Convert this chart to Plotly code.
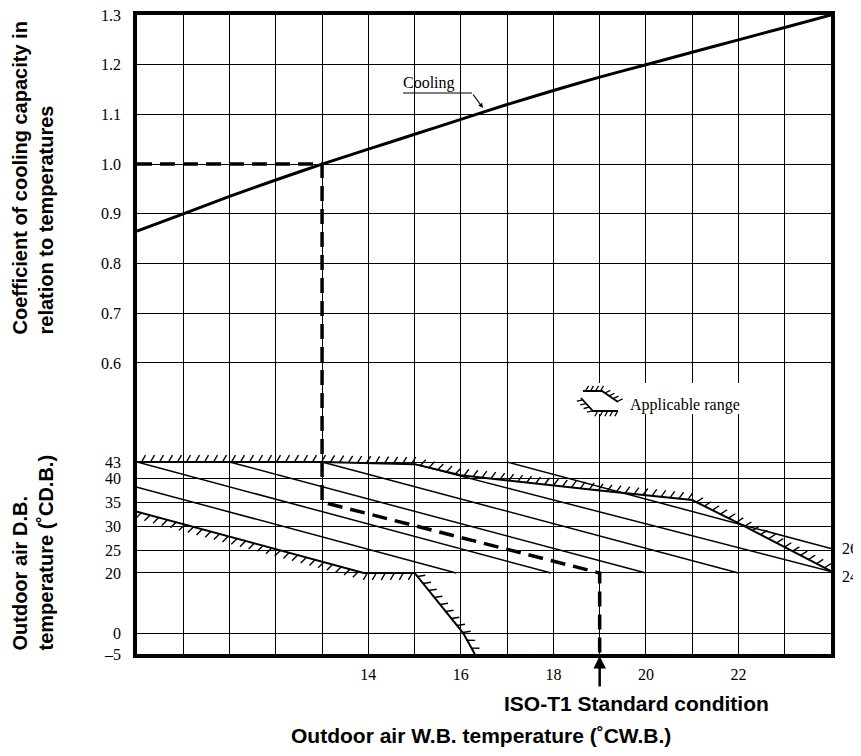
import numpy as np
import plotly.graph_objects as go

# ---------------- data ----------------
WB_MIN, WB_MAX = 9, 24
COEF_TOP = 1.3

# cooling capacity coefficient vs outdoor W.B.
COOL_WB = [9, 10, 11, 12, 13, 14, 15, 16, 17, 18, 19, 20, 21, 22, 23, 24]
COOL_COEF = [0.865, 0.900, 0.935, 0.968, 1.000, 1.030, 1.060, 1.090,
             1.120, 1.148, 1.175, 1.200, 1.225, 1.250, 1.275, 1.300]

COEF_TICKS = [0.6, 0.7, 0.8, 0.9, 1.0, 1.1, 1.2, 1.3]
COEF_LABELS = ["0.6", "0.7", "0.8", "0.9", "1.0", "1.1", "1.2", "1.3"]

# lower panel: outdoor D.B. axis (non-linear in the original drawing)
DB_TICKS = [-5, 0, 20, 25, 30, 35, 40, 43]
DB_LABELS = ["\u20135", "0", "20", "25", "30", "35", "40", "43"]
# where each of those D.B. levels sits on the shared vertical scale
DB_ROW = [0.0143, 0.0565, 0.1773, 0.2235, 0.2718, 0.3201, 0.3684, 0.4006]

WB_GRID = list(range(10, 24))
WB_LABELLED = [14, 16, 18, 20, 22]

# diagonal lines inside the applicable range (W.B., D.B.)
DIAG_1_WB, DIAG_1_DB = [9, 15.9], [38.1, 20]
DIAG_2_WB, DIAG_2_DB = [9, 17.95], [43, 20]
DIAG_3_WB, DIAG_3_DB = [11, 20], [43, 20]
DIAG_4_WB, DIAG_4_DB = [13, 22], [43, 20]
DIAG_24_WB, DIAG_24_DB = [15, 24], [42.6, 20.3]
DIAG_26_WB, DIAG_26_DB = [17, 24], [43, 25.3]

# applicable range boundaries (W.B., D.B.)
UPPER_WB = [9, 13, 15, 16, 19, 21, 22, 24]
UPPER_DB = [43, 43, 42.6, 40.5, 37.4, 35.4, 30.6, 20.4]
LOWER_WB = [9, 13.9, 15]
LOWER_DB = [33, 20, 20]
STEEP_WB = [15, 16.05, 16.3]
STEEP_DB = [20, 0, -5]
BOTTOM_WB = [15.8, 24]
BOTTOM_DB = [-5, -5]

# ISO-T1 standard condition path
STD_WB_COEF, STD_COEF = [9, 13], [1.0, 1.0]
STD_WB_DB, STD_DB = [13, 13, 19, 19], [43, 35, 20, -5]

# ---------------- geometry helpers ----------------
PAGE_OFF = 8                      # default body margin of the html page
PLOT_L, PLOT_T, PLOT_W, PLOT_H = 137, 15, 694, 639   # plot box in page pixels
Y_BOT = DB_ROW[0]


def db_row(db):
    return list(np.interp(db, DB_TICKS, DB_ROW))


def to_px(x, y):
    x = np.asarray(x, float)
    y = np.asarray(y, float)
    px = PLOT_L + (x - WB_MIN) / (WB_MAX - WB_MIN) * PLOT_W
    py = PLOT_T + (COEF_TOP - y) / (COEF_TOP - Y_BOT) * PLOT_H
    return px, py


def from_px(px, py):
    px = np.asarray(px, float)
    py = np.asarray(py, float)
    x = WB_MIN + (px - PLOT_L) / PLOT_W * (WB_MAX - WB_MIN)
    y = COEF_TOP - (py - PLOT_T) / PLOT_H * (COEF_TOP - Y_BOT)
    return x, y


def paper(px, py):
    return (px - PLOT_L) / PLOT_W, 1 - (py - PLOT_T) / PLOT_H


def hatch_px(px, py, side, step=9.0, length=8.0, angle=30):
    a = np.radians(angle)
    segs = []
    carry = step / 2
    for i in range(len(px) - 1):
        x0, y0, x1, y1 = px[i], py[i], px[i + 1], py[i + 1]
        L = np.hypot(x1 - x0, y1 - y0)
        if L == 0:
            continue
        tx, ty = (x1 - x0) / L, (y1 - y0) / L
        nx, ny = ty * side, -tx * side
        dx = nx * np.cos(a) - ny * np.sin(a)
        dy = nx * np.sin(a) + ny * np.cos(a)
        s = carry
        while s < L:
            sx, sy = x0 + tx * s, y0 + ty * s
            segs.append((sx, sy, sx + dx * length, sy + dy * length))
            s += step
        carry = s - L
    return segs


def hatch(xs, ys, side, **kw):
    px, py = to_px(xs, ys)
    hx, hy = [], []
    for sx, sy, ex, ey in hatch_px(px, py, side, **kw):
        X, Y = from_px([sx, ex], [sy, ey])
        hx += [X[0], X[1], None]
        hy += [Y[0], Y[1], None]
    return hx, hy


# ---------------- figure ----------------
fig = go.Figure()
BLACK = "black"

# thin diagonals
dx, dy = [], []
for wb, db in [(DIAG_1_WB, DIAG_1_DB), (DIAG_2_WB, DIAG_2_DB), (DIAG_3_WB, DIAG_3_DB),
               (DIAG_4_WB, DIAG_4_DB), (DIAG_24_WB, DIAG_24_DB), (DIAG_26_WB, DIAG_26_DB)]:
    dx += list(wb) + [None]
    dy += db_row(db) + [None]
fig.add_trace(go.Scatter(x=dx, y=dy, mode="lines", line=dict(color=BLACK, width=1.5),
                         hoverinfo="skip"))

# boundaries
for wb, db in [(UPPER_WB, UPPER_DB), (LOWER_WB + STEEP_WB[1:], LOWER_DB + STEEP_DB[1:])]:
    fig.add_trace(go.Scatter(x=wb, y=db_row(db), mode="lines",
                             line=dict(color=BLACK, width=2), hoverinfo="skip"))

# hatching along the boundaries
hx, hy = [], []
for wb, db, side in [(UPPER_WB, UPPER_DB, 1), (LOWER_WB, LOWER_DB, -1),
                     (STEEP_WB, STEEP_DB, 1), (BOTTOM_WB, BOTTOM_DB, -1)]:
    a, b = hatch(wb, db_row(db), side)
    hx += a
    hy += b
fig.add_trace(go.Scatter(x=hx, y=hy, mode="lines", line=dict(color=BLACK, width=1.4),
                         cliponaxis=False, hoverinfo="skip"))

# cooling curve
fig.add_trace(go.Scatter(x=COOL_WB, y=COOL_COEF, mode="lines",
                         line=dict(color=BLACK, width=3, shape="spline", smoothing=0.6),
                         name="Cooling"))

# standard condition dashed path
fig.add_trace(go.Scatter(x=STD_WB_COEF + STD_WB_DB[1:],
                         y=STD_COEF + db_row(STD_DB[1:]),
                         mode="lines", line=dict(color=BLACK, width=3.5, dash="15px,8px"),
                         hoverinfo="skip"))

tick_font = dict(family="Liberation Serif, Times New Roman, serif", size=16, color=BLACK)
title_font = dict(family="Liberation Sans, Arial, sans-serif", size=20, color=BLACK)

W, H = 861 - PAGE_OFF, 756 - 2 * PAGE_OFF
ML, MT = PLOT_L - PAGE_OFF, PLOT_T - PAGE_OFF
fig.update_layout(
    width=W, height=H,
    margin=dict(l=ML, r=W - ML - PLOT_W, t=MT, b=H - MT - PLOT_H, pad=0),
    paper_bgcolor="white", plot_bgcolor="white", showlegend=False,
    xaxis=dict(range=[WB_MIN, WB_MAX], tickmode="array", tickvals=WB_GRID,
               ticktext=[str(v) if v in WB_LABELLED else "" for v in WB_GRID],
               showgrid=True, gridcolor=BLACK, gridwidth=1.4, zeroline=False,
               showline=True, mirror=True, linecolor=BLACK, linewidth=3.5,
               ticks="", tickfont=tick_font, ticklabelstandoff=3, automargin=False,
               ticklabeloverflow="allow"),
    yaxis=dict(range=[Y_BOT, COEF_TOP], tickmode="array",
               tickvals=COEF_TICKS + DB_ROW, ticktext=COEF_LABELS + DB_LABELS,
               showgrid=True, gridcolor=BLACK, gridwidth=1.4, zeroline=False,
               showline=True, mirror=True, linecolor=BLACK, linewidth=3.5,
               ticks="", tickfont=tick_font, ticklabelstandoff=9, automargin=False,
               ticklabeloverflow="allow"),
)

# ---- annotations / decorations ----
ann = []
# Cooling label
cx, cy = from_px(429, 83)
ann.append(dict(x=float(cx), y=float(cy), text="Cooling", showarrow=False,
                font=tick_font, xanchor="center", yanchor="middle"))
u0x, u0y = from_px(403, 93)
u1x, u1y = from_px(472, 93)
tipx, tipy = from_px(483, 108)
fig.add_shape(type="line", x0=float(u0x), y0=float(u0y), x1=float(u1x), y1=float(u1y),
              line=dict(color=BLACK, width=1.2))
ann.append(dict(x=float(tipx), y=float(tipy), ax=-11, ay=-15, text="", showarrow=True,
                arrowhead=2, arrowsize=0.8, arrowwidth=1.2, arrowcolor=BLACK))

# right labels
ann.append(dict(x=WB_MAX, y=db_row([25.4])[0], text="26", showarrow=False, font=tick_font,
                xanchor="left", yanchor="middle", xshift=9))
ann.append(dict(x=WB_MAX, y=db_row([18.7])[0], text="24", showarrow=False, font=tick_font,
                xanchor="left", yanchor="middle", xshift=9))

# applicable range legend
bx0, by0 = from_px(570, 383)
bx1, by1 = from_px(748, 414)
fig.add_shape(type="rect", x0=float(bx0), y0=float(by1), x1=float(bx1), y1=float(by0),
              fillcolor="white", line=dict(width=0), layer="above")
glyph_top = ([583, 602, 618], [391, 391, 402])
glyph_bot = ([581, 593, 618], [398, 411, 411])


def path_from_px(pxs, pys):
    X, Y = from_px(pxs, pys)
    return "M " + " L ".join(f"{a:.5f},{b:.5f}" for a, b in zip(X, Y))


for (gx, gy), side in [(glyph_top, 1), (glyph_bot, -1)]:
    fig.add_shape(type="path", path=path_from_px(gx, gy), line=dict(color=BLACK, width=1.8),
                  layer="above")
    hp = []
    for sx, sy, ex, ey in hatch_px(np.array(gx, float), np.array(gy, float), side,
                                   step=5.0, length=6.0):
        hp.append(path_from_px([sx, ex], [sy, ey]))
    fig.add_shape(type="path", path=" ".join(hp), line=dict(color=BLACK, width=1.3),
                  layer="above")
lx, ly = from_px(628, 405)
ann.append(dict(x=float(lx), y=float(ly), text="Applicable range", showarrow=False,
                font=tick_font, xanchor="left", yanchor="middle"))

# standard condition arrow and label
ann.append(dict(x=19, y=Y_BOT, ax=0, ay=34, text="", showarrow=True, arrowhead=2,
                arrowsize=1, arrowwidth=2.5, arrowcolor=BLACK, standoff=2))
px_, py_ = paper(636.5, 703)
ann.append(dict(x=px_, y=py_, xref="paper", yref="paper",
                text="<b>ISO-T1 Standard condition</b>", showarrow=False,
                font=dict(title_font, size=21), xanchor="center", yanchor="middle"))

# axis titles
px_, py_ = paper(481, 735)
ann.append(dict(x=px_, y=py_, xref="paper", yref="paper",
                text="<b>Outdoor air W.B. temperature (\u02daCW.B.)</b>",
                showarrow=False, font=dict(title_font, size=21), xanchor="center",
                yanchor="middle"))
px_, py_ = paper(33, 337)
ann.append(dict(x=px_, y=py_, xref="paper", yref="paper",
                text="<b>Coefficient of cooling capacity in<br>relation to temperatures</b>",
                showarrow=False, font=title_font, textangle=-90, align="left",
                xanchor="center", yanchor="bottom"))
px_, py_ = paper(32.5, 653)
ann.append(dict(x=px_, y=py_, xref="paper", yref="paper",
                text="<b>Outdoor air D.B.<br>temperature (\u02daCD.B.)</b>",
                showarrow=False, font=title_font, textangle=-90, align="left",
                xanchor="center", yanchor="bottom"))

fig.update_layout(annotations=ann)
fig.write_html("out.html")
